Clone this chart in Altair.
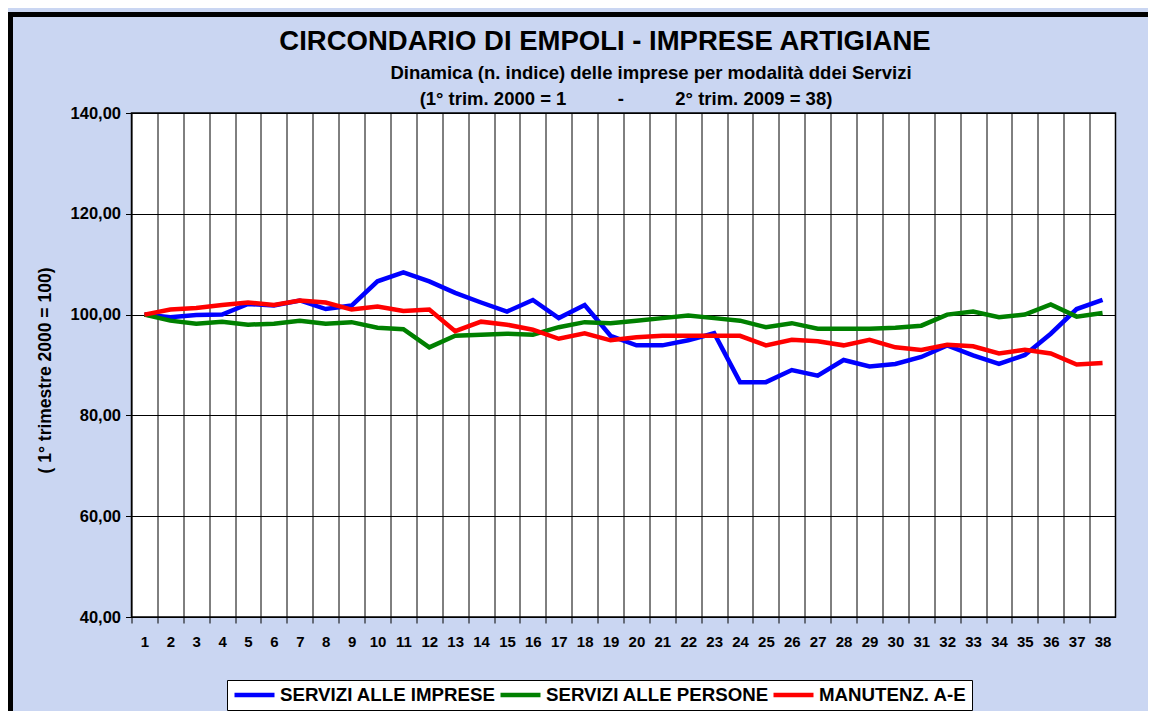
import altair as alt
import pandas as pd

trimestri = list(range(1, 39))
serie = ["SERVIZI ALLE IMPRESE", "SERVIZI ALLE PERSONE", "MANUTENZ. A-E"]
colori = ["#0000ff", "#008000", "#ff0000"]

imprese = [100.0, 99.5, 99.9, 100.0, 102.1, 101.8, 102.8, 101.1, 101.8, 106.6,
           108.4, 106.6, 104.3, 102.4, 100.6, 102.9, 99.3, 101.9, 95.8, 93.9,
           93.9, 94.9, 96.3, 86.6, 86.6, 89.0, 87.9, 91.0, 89.7, 90.2,
           91.6, 93.9, 91.9, 90.2, 92.0, 96.2, 101.1, 102.9]
persone = [100.0, 98.8, 98.2, 98.6, 98.0, 98.2, 98.8, 98.2, 98.5, 97.4,
           97.1, 93.5, 95.8, 96.0, 96.2, 96.0, 97.5, 98.5, 98.3, 98.8,
           99.3, 99.8, 99.3, 98.8, 97.5, 98.3, 97.2, 97.2, 97.2, 97.4,
           97.8, 100.0, 100.6, 99.5, 100.0, 102.0, 99.6, 100.3]
manutenz = [100.0, 101.0, 101.3, 101.9, 102.4, 101.9, 102.8, 102.4, 101.0, 101.6,
            100.7, 101.0, 96.7, 98.6, 98.0, 97.0, 95.2, 96.3, 94.9, 95.5,
            95.8, 95.8, 95.8, 95.8, 93.9, 95.0, 94.7, 93.9, 95.0, 93.5,
            93.0, 94.0, 93.7, 92.3, 93.0, 92.3, 90.1, 90.4]

y_ticks = [40, 60, 80, 100, 120, 140]

titolo = "CIRCONDARIO DI EMPOLI - IMPRESE ARTIGIANE"
sottotitolo = "Dinamica (n. indice) delle imprese per modalità ddei Servizi"
NB = "\u00a0"
periodo = "(1° trim. 2000 = 1" + NB * 10 + "-" + NB * 10 + "2° trim. 2009 = 38)"
y_titolo = "( 1° trimestre 2000 = 100)"

rows = []
for s, vals in zip(serie, [imprese, persone, manutenz]):
    for t, v in zip(trimestri, vals):
        rows.append({"trimestre": t, "serie": s, "valore": v})
df = pd.DataFrame(rows)

W, H = 984, 504
band = W / 38
FONT = "Liberation Sans"

x_enc = alt.X(
    "trimestre:Q",
    scale=alt.Scale(domain=[0.5, 38.5], nice=False, zero=False),
    axis=alt.Axis(
        values=trimestri, tickOffset=-band / 2, labelOffset=band / 2,
        grid=True, gridColor="#000000", gridWidth=1, gridOpacity=1,
        domain=False, ticks=True, tickColor="#000000", tickSize=6, tickWidth=1,
        labelFont=FONT, labelFontSize=15, labelFontWeight="bold", labelColor="#000000",
        labelPadding=11, labelFlush=False, labelOverlap=False, title=None,
    ),
)
y_enc = alt.Y(
    "valore:Q",
    scale=alt.Scale(domain=[40, 140], nice=False, zero=False),
    axis=alt.Axis(
        values=y_ticks, labelExpr="replace(format(datum.value, '.2f'), '.', ',')",
        grid=True, gridColor="#000000", gridWidth=1, gridOpacity=1,
        domain=False, ticks=True, tickColor="#000000", tickSize=6, tickWidth=1,
        labelFont=FONT, labelFontSize=16.5, labelFontWeight="bold", labelColor="#000000",
        labelPadding=5, labelFlush=False,
        title=y_titolo, titleFont=FONT, titleFontSize=17.5, titleFontWeight="bold",
        titleColor="#000000", titleX=-86.5, titleY=257, titleAngle=-90,
        titleAlign="center", titleBaseline="middle",
    ),
)
color_enc = alt.Color(
    "serie:N",
    scale=alt.Scale(domain=serie, range=colori),
    legend=alt.Legend(
        orient="none", legendX=95.5, legendY=567, direction="horizontal", title=None,
        symbolType="stroke", symbolSize=1600, symbolStrokeWidth=4.5, clipHeight=19,
        labelFont=FONT, labelFontSize=18.7, labelFontWeight="bold", labelColor="#000000",
        labelLimit=0, labelOffset=3, columnPadding=2, padding=5,
        strokeColor="#000000", fillColor="#ffffff",
    ),
)

layers = []
for s in serie:
    layers.append(
        alt.Chart(df).transform_filter(alt.datum.serie == s)
        .mark_line(strokeWidth=4.5)
        .encode(x=x_enc, y=y_enc, color=color_enc)
    )

one = pd.DataFrame({"testo": [titolo, sottotitolo, periodo], "k": [0, 1, 2]})


def testo(i, size, px, py):
    return (
        alt.Chart(one).transform_filter(alt.datum.k == i)
        .mark_text(font=FONT, fontSize=size, fontWeight="bold", color="#000000",
                   align="center", baseline="middle")
        .encode(text="testo:N", x=alt.value(px), y=alt.value(py))
    )


cornice = (
    alt.Chart(one).transform_filter(alt.datum.k == 0)
    .mark_rect(filled=False, stroke="#000000", strokeWidth=5)
    .encode(x=alt.value(-121), x2=alt.value(1100), y=alt.value(-98.5), y2=alt.value(700))
)

chart = (
    alt.layer(
        *layers,
        cornice,
        testo(0, 27.5, 605 - 131.5, 42 - 113),
        testo(1, 18.5, 651 - 131.5, 73 - 113),
        testo(2, 18.5, 626 - 131.5, 99 - 113),
    )
    .properties(
        width=W, height=H,
        autosize=alt.AutoSizeParams(type="none"),
        padding={"left": 123.5, "top": 105, "right": 32.5, "bottom": 94},
        background="#cad6f2",
    )
    .configure_view(fill="#ffffff", stroke="#000000", strokeWidth=1.5)
)

chart.save("out.html", embed_options={"renderer": "svg", "actions": False})
